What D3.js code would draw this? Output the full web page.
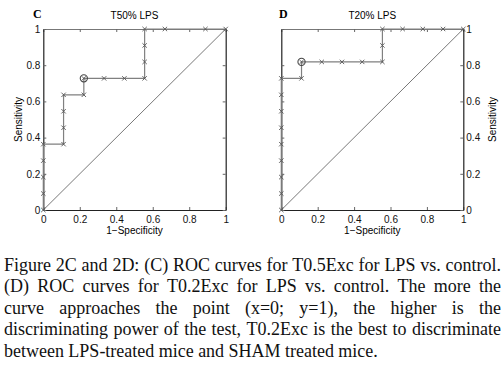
<!DOCTYPE html>
<html lang="en">
<head>
    <meta charset="UTF-8">
    <title>ROC curves T50% / T20% LPS</title>
    <script src="https://d3js.org/d3.v7.min.js"></script>
    <style>
        body { margin: 0; background: #fff; }
        svg text { font-family: "Liberation Sans", Arial, sans-serif; }
    </style>
</head>
<body>
    <svg id="roc" width="503" height="377"></svg>
    <script>
        // ROC points, x = 1-specificity (n=9 controls), y = sensitivity (n=11 LPS)
        const rocC_x = [0, 0, 0, 0, 0, 1/9, 1/9, 1/9, 1/9, 2/9, 2/9, 3/9, 4/9, 5/9, 5/9, 5/9, 5/9, 6/9, 8/9, 1];
        const rocC_y = [0, 1/11, 2/11, 3/11, 4/11, 4/11, 5/11, 6/11, 7/11, 7/11, 8/11, 8/11, 8/11, 8/11, 9/11, 10/11, 1, 1, 1, 1];
        const rocC_best = [2/9, 8/11];

        const rocD_x = [0, 0, 0, 0, 0, 0, 0, 0, 0, 1/9, 1/9, 2/9, 3/9, 4/9, 5/9, 5/9, 5/9, 6/9, 7/9, 8/9, 1];
        const rocD_y = [0, 1/11, 2/11, 3/11, 4/11, 5/11, 6/11, 7/11, 8/11, 8/11, 9/11, 9/11, 9/11, 9/11, 9/11, 10/11, 1, 1, 1, 1, 1];
        const rocD_best = [1/9, 9/11];

        const tickValues = [0, 0.2, 0.4, 0.6, 0.8, 1];
        const tickLabels = ["0", "0.2", "0.4", "0.6", "0.8", "1"];

        const captionLines = [
            "Figure 2C and 2D: (C) ROC curves for T0.5Exc for LPS vs. control.",
            "(D) ROC curves for T0.2Exc for LPS vs. control. The more the",
            "curve approaches the point (x=0; y=1), the higher is the",
            "discriminating power of the test, T0.2Exc is the best to discriminate",
            "between LPS-treated mice and SHAM treated mice."
        ];

        const svg = d3.select("#roc");

        function drawPanel(opts) {
            const x = d3.scaleLinear().domain([0, 1]).range([opts.left, opts.right]);
            const y = d3.scaleLinear().domain([0, 1]).range([210, 29]);
            const g = svg.append("g");

            // diagonal reference
            g.append("line")
                .attr("x1", x(0)).attr("y1", y(0))
                .attr("x2", x(1)).attr("y2", y(1))
                .style("stroke", "#555").style("stroke-width", 0.8);

            const bottom = g.append("g")
                .attr("transform", `translate(0,${y(0)})`)
                .call(d3.axisBottom(x).tickValues(tickValues).tickFormat((d, i) => tickLabels[i])
                    .tickSizeInner(-3).tickSizeOuter(0).tickPadding(6));
            const top = g.append("g")
                .attr("transform", `translate(0,${y(1)})`)
                .call(d3.axisTop(x).tickValues(tickValues).tickFormat("").tickSizeInner(-3).tickSizeOuter(0));
            const left = g.append("g")
                .attr("transform", `translate(${x(0)},0)`)
                .call(d3.axisLeft(y).tickValues(tickValues)
                    .tickFormat(opts.labelSide === "left" ? ((d, i) => tickLabels[i]) : "")
                    .tickSizeInner(-3).tickSizeOuter(0).tickPadding(3));
            const right = g.append("g")
                .attr("transform", `translate(${x(1)},0)`)
                .call(d3.axisRight(y).tickValues(tickValues)
                    .tickFormat(opts.labelSide === "right" ? ((d, i) => tickLabels[i]) : "")
                    .tickSizeInner(-3).tickSizeOuter(0).tickPadding(3));

            [bottom, top, left, right].forEach(a => {
                a.select(".domain").style("stroke", "#222").style("stroke-width", 1.2);
                a.selectAll(".tick line").style("stroke", "#666");
                a.selectAll("text").style("font-size", "10px").style("fill", "#111");
            });
            top.select(".domain").style("stroke", "#777").style("stroke-width", 1);

            // ROC staircase
            const pts = opts.xs.map((v, i) => [x(v), y(opts.ys[i])]);
            g.append("path")
                .attr("d", d3.line()(pts))
                .style("fill", "none").style("stroke", "#808080").style("stroke-width", 1.2);

            // x markers
            g.selectAll(".mk").data(pts).enter().append("path")
                .attr("transform", d => `translate(${d[0]},${d[1]})`)
                .attr("d", "M-2.2,-2.2L2.2,2.2M-2.2,2.2L2.2,-2.2")
                .style("stroke", "#555").style("stroke-width", 0.9);

            // optimal cut-off
            g.append("circle")
                .attr("cx", x(opts.best[0])).attr("cy", y(opts.best[1]))
                .attr("r", 3.6)
                .style("fill", "none").style("stroke", "#444").style("stroke-width", 1.1);

            // labels
            g.append("text")
                .attr("x", (x(0) + x(1)) / 2).attr("y", 19)
                .attr("text-anchor", "middle")
                .style("font-size", "10px").text(opts.title);
            g.append("text")
                .attr("x", opts.letterX).attr("y", 17.5)
                .style("font-family", "'Liberation Serif', serif")
                .style("font-weight", "bold").style("font-size", "12px")
                .text(opts.letter);
            g.append("text")
                .attr("x", (x(0) + x(1)) / 2).attr("y", 234)
                .attr("text-anchor", "middle")
                .style("font-size", "10px").text("1\u2212Specificity");
            g.append("text")
                .attr("transform", `translate(${opts.ylabX},${(y(0) + y(1)) / 2}) rotate(-90)`)
                .attr("text-anchor", "middle")
                .style("font-size", "10px").text("Sensitivity");
        }

        drawPanel({ left: 43.3, right: 225.7, xs: rocC_x, ys: rocC_y, best: rocC_best,
            title: "T50% LPS", letter: "C", letterX: 33, labelSide: "left", ylabX: 22 });
        drawPanel({ left: 281.3, right: 463.3, xs: rocD_x, ys: rocD_y, best: rocD_best,
            title: "T20% LPS", letter: "D", letterX: 279, labelSide: "right", ylabX: 495.5 });

        // caption, justified word by word
        const capLeft = 4, capRight = 501, capTop = 271, lineH = 21.4, minGap = 3.6;
        captionLines.forEach((line, li) => {
            const words = line.split(" ");
            const t = svg.append("g");
            const nodes = words.map(w => t.append("text")
                .attr("y", capTop + li * lineH)
                .style("font-family", "'Liberation Serif', 'DejaVu Serif', serif")
                .style("font-size", "18px").style("fill", "#111")
                .text(w));
            let widths = nodes.map(n => n.node().getComputedTextLength());
            const last = li === captionLines.length - 1;
            const avail = capRight - capLeft;
            let total = d3.sum(widths);
            let gap = last ? 4.4 : (avail - total) / (words.length - 1);
            if (!last && gap < minGap) {
                const k = (avail - minGap * (words.length - 1)) / total;
                widths = widths.map(w => w * k);
                nodes.forEach((n, i) => n.attr("textLength", widths[i]).attr("lengthAdjust", "spacingAndGlyphs"));
                gap = minGap;
            }
            let cx = capLeft;
            nodes.forEach((n, i) => { n.attr("x", cx); cx += widths[i] + gap; });
        });
    </script>
</body>
</html>
